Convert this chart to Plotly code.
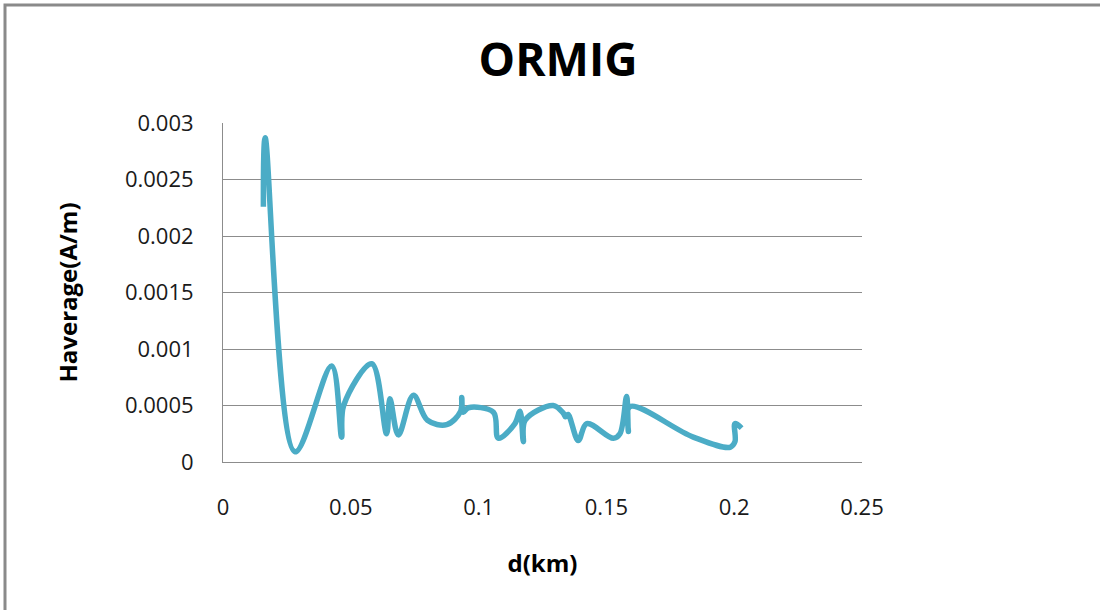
import plotly.graph_objects as go

d_km = [0.0158, 0.0165, 0.0282, 0.0425, 0.0464, 0.0472, 0.0582, 0.0640, 0.0653, 0.0686,
        0.0745, 0.0800, 0.0875, 0.0930, 0.0934, 0.0940, 0.0960, 0.1058, 0.1077, 0.1142,
        0.1162, 0.1175, 0.1182, 0.1292, 0.1332, 0.1340, 0.1350, 0.1390, 0.1423, 0.1527,
        0.1553, 0.1579, 0.1586, 0.1592, 0.1840, 0.1984, 0.2003, 0.2003, 0.2029]
h_avg = [0.00226, 0.00287, 0.00009, 0.00085, 0.00022, 0.00050, 0.00087, 0.00025, 0.00056, 0.00024,
         0.00059, 0.00037, 0.00033, 0.00045, 0.00057, 0.00044, 0.00048, 0.00044, 0.00021, 0.00034,
         0.00045, 0.00018, 0.00037, 0.00050, 0.00043, 0.00040, 0.00042, 0.00019, 0.00034, 0.00021,
         0.00025, 0.00058, 0.00027, 0.00049, 0.00022, 0.00013, 0.00018, 0.00034, 0.00030]

x_ticks = [0, 0.05, 0.1, 0.15, 0.2, 0.25]
x_tick_text = ["0", "0.05", "0.1", "0.15", "0.2", "0.25"]
y_ticks = [0, 0.0005, 0.001, 0.0015, 0.002, 0.0025, 0.003]
y_tick_text = ["0", "0.0005", "0.001", "0.0015", "0.002", "0.0025", "0.003"]

FONT = "Open Sans"
GRID = "#8c8c8c"

fig = go.Figure()
fig.add_trace(go.Scatter(
    x=d_km, y=h_avg, mode="lines",
    line=dict(color="#4BACC6", width=5.5, shape="spline", smoothing=1),
    showlegend=False, hoverinfo="x+y",
))

fig.update_layout(
    width=1100, height=610,
    margin=dict(l=223, r=238, t=123, b=148),
    paper_bgcolor="white", plot_bgcolor="white",
    font=dict(family=FONT, color="#1a1a1a"),
    title=dict(text="<b>ORMIG</b>", x=558 / 1100, xanchor="center",
               y=1 - 60 / 610, yanchor="middle",
               font=dict(family=FONT, size=46, color="black")),
    xaxis=dict(
        range=[0, 0.25], tickvals=x_ticks, ticktext=x_tick_text,
        showgrid=False, zeroline=False,
        showline=True, linecolor=GRID, linewidth=1,
        ticks="", ticklabelstandoff=26,
        tickfont=dict(family=FONT, size=22, color="#1a1a1a"),
        title=dict(text="<b>d(km)</b>", font=dict(family=FONT, size=24, color="black"), standoff=34),
    ),
    yaxis=dict(
        range=[0, 0.0030001], tickvals=y_ticks, ticktext=y_tick_text,
        showgrid=True, gridcolor=GRID, gridwidth=1, zeroline=False,
        showline=True, linecolor=GRID, linewidth=1,
        ticks="", ticklabelstandoff=24,
        tickfont=dict(family=FONT, size=22, color="#1a1a1a"),
        title=dict(text="<b>Haverage(A/m)</b>", font=dict(family=FONT, size=24, color="black"), standoff=40),
    ),
)

# outer chart border (Excel chart area), right edge beyond the visible picture
fig.add_shape(type="rect", xref="paper", yref="paper",
              x0=(5 - 223) / 639, x1=(1110 - 223) / 639,
              y0=(462 - 640) / 339, y1=(462 - 5) / 339,
              line=dict(color="#8a8a8a", width=3), fillcolor="rgba(0,0,0,0)", layer="below")

fig.write_html("out.html")
